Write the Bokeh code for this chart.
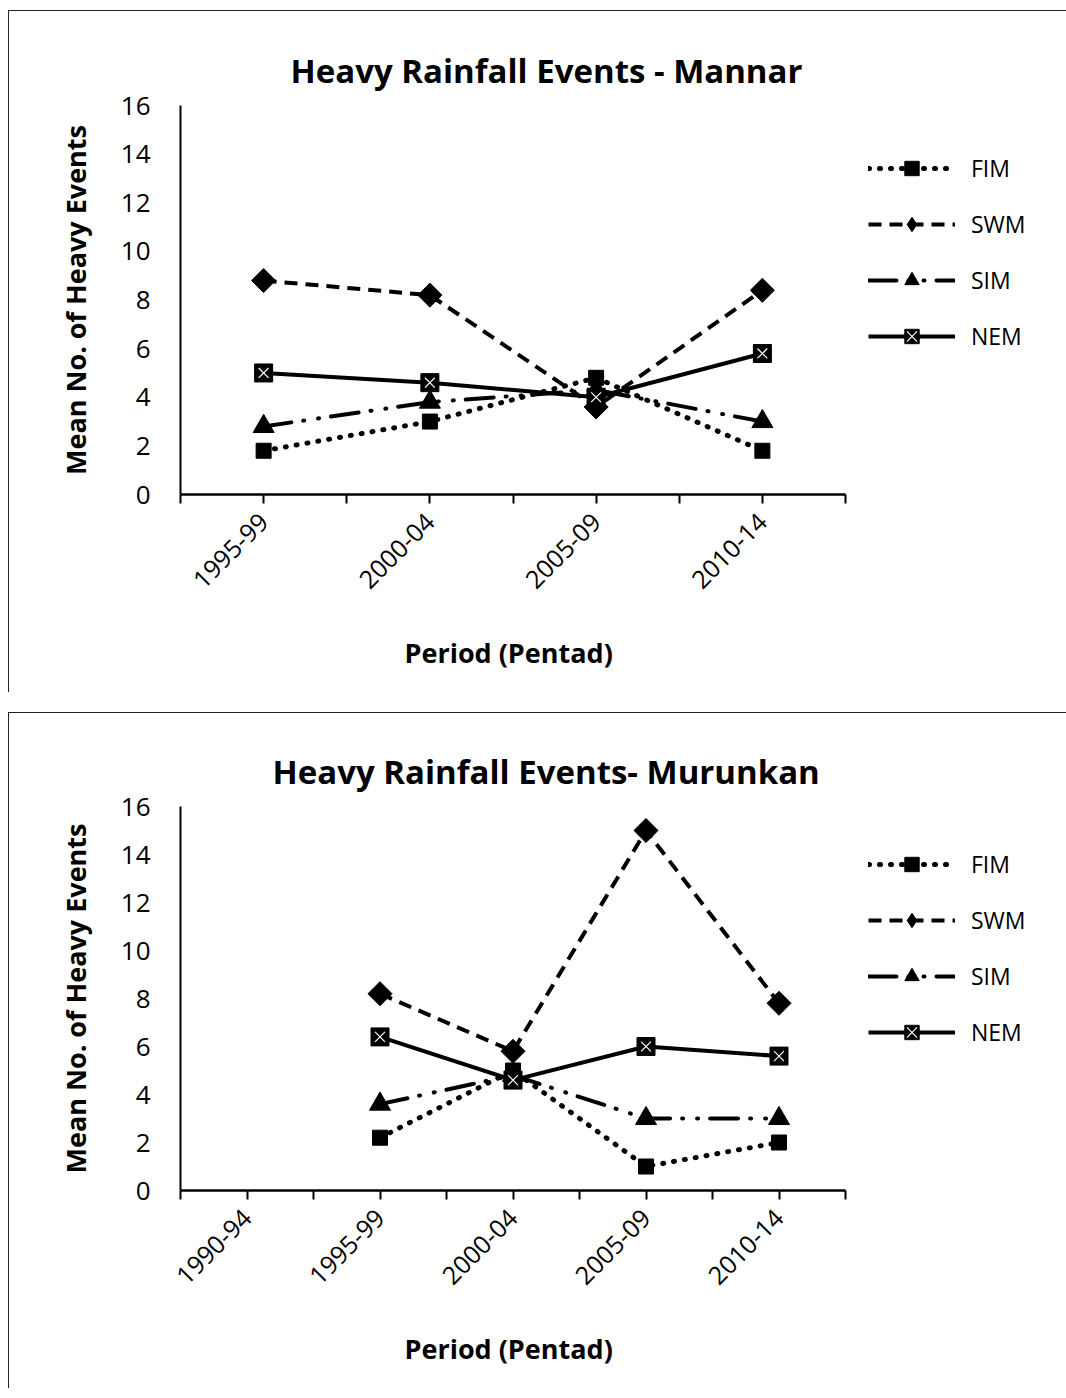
import math
from bokeh.plotting import figure
from bokeh.models import (Range1d, FixedTicker, Legend, LegendItem, Title, InlineStyleSheet)
from bokeh.layouts import column
from bokeh.embed import file_html
from bokeh.resources import INLINE

# ---------------- data ----------------
periods_mannar = ["1995-99", "2000-04", "2005-09", "2010-14"]
fim_mannar = [1.8, 3.0, 4.8, 1.8]
swm_mannar = [8.8, 8.2, 3.6, 8.4]
sim_mannar = [2.8, 3.8, 4.3, 3.0]
nem_mannar = [5.0, 4.6, 4.0, 5.8]

NaN = float("nan")
periods_murunkan = ["1990-94", "1995-99", "2000-04", "2005-09", "2010-14"]
fim_murunkan = [NaN, 2.2, 5.0, 1.0, 2.0]
swm_murunkan = [NaN, 8.2, 5.8, 15.0, 7.8]
sim_murunkan = [NaN, 3.6, 4.8, 3.0, 3.0]
nem_murunkan = [NaN, 6.4, 4.6, 6.0, 5.6]

y_ticks = [0, 2, 4, 6, 8, 10, 12, 14, 16]
series_names = ["FIM", "SWM", "SIM", "NEM"]
x_title = "Period (Pentad)"
y_title = "Mean No. of Heavy Events"

FONT = "Open Sans"
LEFT = 180          # frame left edge (px)
AXIS_W = 665        # width of the drawn category axis (px)
RIGHT = 6           # right border; frame extends under the legend
FRAME_H = 390


def make_chart(title, periods, fim, swm, sim, nem, height, border_top, title_offset):
    n = len(periods)
    xs = list(range(n))
    frame_w = 1066 - LEFT - RIGHT
    px_per_cat = AXIS_W / n
    x_end = -0.5 + frame_w / px_per_cat
    css = InlineStyleSheet(css="""
:host { position: relative; }
:host::after { content: ""; position: absolute; left: 8px; top: 10px; right: -4px; bottom: 10px;
  border-left: 1.5px solid #222; border-top: 1.5px solid #222; pointer-events: none; }
""")
    p = figure(width=1066, height=height, output_backend="svg", toolbar_location=None,
               x_range=Range1d(-0.5, x_end), y_range=Range1d(0, 16),
               min_border_left=LEFT, min_border_right=RIGHT,
               min_border_top=border_top, min_border_bottom=height - border_top - FRAME_H,
               stylesheets=[css])
    p.outline_line_color = None
    p.grid.visible = False
    p.background_fill_color = "white"
    p.border_fill_color = "white"

    t = Title(text=title, align="left", text_font=FONT, text_font_size="33px",
              text_font_style="bold", text_color="black", standoff=26, offset=title_offset)
    p.add_layout(t, "above")

    # x axis, bounded to the category span
    ticks = [i * 0.5 - 0.5 for i in range(2 * n + 1)]
    xa = p.xaxis[0]
    xa.bounds = (-0.5, n - 0.5)
    xa.ticker = FixedTicker(ticks=ticks)
    overrides = {}
    for tk in ticks:
        overrides[tk] = periods[int(tk)] if float(tk).is_integer() else ""
    xa.major_label_overrides = overrides
    xa.major_label_orientation = math.pi / 4
    xa.major_label_text_font = FONT
    xa.major_label_text_font_size = "25px"
    xa.major_label_text_color = "black"
    xa.major_label_standoff = 14
    xa.major_tick_out = 9
    xa.major_tick_in = 0
    xa.minor_tick_out = 0
    xa.minor_tick_in = 0
    xa.axis_line_width = 2.5
    xa.major_tick_line_width = 2

    xt = Title(text=x_title, align="left", offset=224, text_font=FONT,
               text_font_size="27px", text_font_style="bold", text_color="black",
               standoff=64)
    p.add_layout(xt, "below")

    ya = p.yaxis[0]
    ya.ticker = FixedTicker(ticks=y_ticks)
    ya.major_label_text_font = FONT
    ya.major_label_text_font_size = "26px"
    ya.major_label_text_color = "black"
    ya.major_label_standoff = 30
    ya.major_tick_out = 0
    ya.major_tick_in = 0
    ya.minor_tick_out = 0
    ya.minor_tick_in = 0
    ya.axis_line_width = 2
    ya.axis_label = y_title
    ya.axis_label_text_font = FONT
    ya.axis_label_text_font_size = "27px"
    ya.axis_label_text_font_style = "bold"
    ya.axis_label_text_color = "black"
    ya.axis_label_standoff = 24

    lw = 4
    # FIM dotted with squares
    l1 = p.line(xs, fim, line_color="black", line_width=5, line_dash="1 10", line_cap="round")
    m1 = p.scatter(xs, fim, marker="square", size=15, fill_color="black", line_color="black")
    # SWM dashed with diamonds (diamond key for legend, rotated squares on top in plot)
    l2 = p.line(xs, swm, line_color="black", line_width=lw, line_dash="13 8")
    m2_key = p.scatter(xs, swm, marker="diamond", size=21, fill_color="black", line_color="black")
    p.scatter(xs, swm, marker="square", angle=math.pi / 4, size=17,
              fill_color="black", line_color="black")
    # SIM long dash dot dot with triangles
    l3 = p.line(xs, sim, line_color="black", line_width=lw, line_dash="28 12 1 14 1 12", line_cap="round")
    m3 = p.scatter(xs, sim, marker="triangle", size=21, fill_color="black", line_color="black")
    # NEM solid with boxed X
    l4 = p.line(xs, nem, line_color="black", line_width=lw)
    m4a = p.scatter(xs, nem, marker="square", size=18, fill_color="black", line_color="black")
    m4b = p.scatter(xs, nem, marker="x", size=14, line_color="white", line_width=1.2)

    items = [
        LegendItem(label=series_names[0], renderers=[l1, m1]),
        LegendItem(label=series_names[1], renderers=[l2, m2_key]),
        LegendItem(label=series_names[2], renderers=[l3, m3]),
        LegendItem(label=series_names[3], renderers=[l4, m4a, m4b]),
    ]
    legend = Legend(items=items, location=(AXIS_W + 23, 140), border_line_color=None,
                    background_fill_alpha=0, glyph_width=87, glyph_height=36,
                    label_height=36, spacing=20, label_standoff=16,
                    label_text_font=FONT, label_text_font_size="23px",
                    label_text_color="black", padding=4, margin=0)
    p.add_layout(legend)
    return p


p1 = make_chart("Heavy Rainfall Events - Mannar", periods_mannar,
                fim_mannar, swm_mannar, sim_mannar, nem_mannar, 702, 105, 110)
p2 = make_chart("Heavy Rainfall Events- Murunkan", periods_murunkan,
                fim_murunkan, swm_murunkan, sim_murunkan, nem_murunkan, 696, 104, 92)

layout = column(p1, p2, spacing=0)
open("out.html", "w").write(file_html(layout, INLINE))
